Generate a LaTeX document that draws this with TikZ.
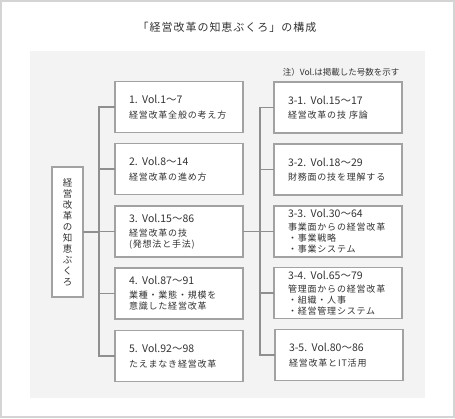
\documentclass[tikz,border=0pt]{standalone}
\usepackage{fontspec}
\setmainfont{Noto Sans CJK JP}
\newfontfamily\boxfont[LetterSpace=9]{Noto Sans CJK JP}
\definecolor{framegray}{HTML}{D4D4D4}
\definecolor{panelgray}{HTML}{F3F3F3}
\definecolor{boxgray}{HTML}{A2A2A2}
\definecolor{linegray}{HTML}{8F8F8F}
\definecolor{textgray}{HTML}{333333}
\newcommand{\volhead}[1]{{\normalfont\fontsize{10.5}{11}\selectfont #1}}
\begin{document}
\begin{tikzpicture}[x=1pt, y=-1pt, line cap=rect,
	conn/.style={draw=linegray, line width=1.4pt},
	volbox/.style={draw=boxgray, line width=1.4pt, fill=white, minimum width=128pt, minimum height=51pt,
		text width=100pt, inner xsep=14pt, align=left, text=textgray,
		font=\boxfont\fontsize{9}{11}\selectfont}]
				% 1. 外枠と背景
				\useasboundingbox (0,0) rectangle (455,418);
				\draw[framegray, line width=1.5pt] (1,1) rectangle (454,417);
				\fill[panelgray] (30,51) rectangle (425,398);
				
				% 2. 見出し
				\node[text=textgray, font=\boxfont\fontsize{11}{13}\selectfont] (title) at (227,27) {「経営改革の知恵ぶくろ」の構成};
				\node[anchor=east, text=textgray, font=\fontsize{8.5}{10}\selectfont] (note) at (403,72) {注）Vol.は掲載した号数を示す};
				
				% 3. 縦書きの親ボックス
				\node[draw=boxgray, line width=1.4pt, fill=white, minimum width=31pt, minimum height=130pt, inner sep=0pt,
					align=center, text=textgray, font=\fontsize{9.5}{11}\selectfont] (root) at (67.5,232)
					{経\\営\\改\\革\\の\\知\\恵\\ぶ\\く\\ろ};
				
				% 4. 第一階層
				\node[volbox] (v1) at (179,107) {\volhead{1. Vol.1〜7}\\[3.5pt]経営改革全般の考え方};
				\node[volbox] (v2) at (179,169) {\volhead{2. Vol.8〜14}\\[3.5pt]経営改革の進め方};
				\node[volbox] (v3) at (179,231.5) {\volhead{3. Vol.15〜86}\\[3pt]経営改革の技\\(発想法と手法)};
				\node[volbox] (v4) at (179,293.5) {\volhead{4. Vol.87〜91}\\[3pt]業種・業態・規模を\\意識した経営改革};
				\node[volbox] (v5) at (179,356) {\volhead{5. Vol.92〜98}\\[3.5pt]たえまなき経営改革};
				
				% 5. 第二階層（3. の内訳）
				\node[volbox] (s1) at (338,107.5) {\volhead{3-1. Vol.15〜17}\\[3.5pt]経営改革の技 序論};
				\node[volbox] (s2) at (338,169.5) {\volhead{3-2. Vol.18〜29}\\[3.5pt]財務面の技を理解する};
				\node[volbox] (s3) at (338,231.5) {\volhead{3-3. Vol.30〜64}\\[2pt]事業面からの経営改革\\・事業戦略\\・事業システム};
				\node[volbox] (s4) at (338,293) {\volhead{3-4. Vol.65〜79}\\[2pt]管理面からの経営改革\\・組織・人事\\・経営管理システム};
				\node[volbox] (s5) at (339,355) {\volhead{3-5. Vol.80〜86}\\[3.5pt]経営改革とIT活用};
				
				% 6. 接続線
				\coordinate (ltrunk) at (99,0);
				\coordinate (rtrunk) at (260,0);
				\draw[conn] (root.east) -- (root.east -| ltrunk);
				\draw[conn] (v1.west -| ltrunk) -- (v5.west -| ltrunk);
				\foreach \n in {1,...,5} \draw[conn] (v\n.west -| ltrunk) -- (v\n.west);
				\draw[conn] (v3.east) -- (v3.east -| rtrunk);
				\draw[conn] (s1.west -| rtrunk) -- (s5.west -| rtrunk);
				\foreach \n in {1,...,5} \draw[conn] (s\n.west -| rtrunk) -- (s\n.west);
			\end{tikzpicture}
\end{document}
